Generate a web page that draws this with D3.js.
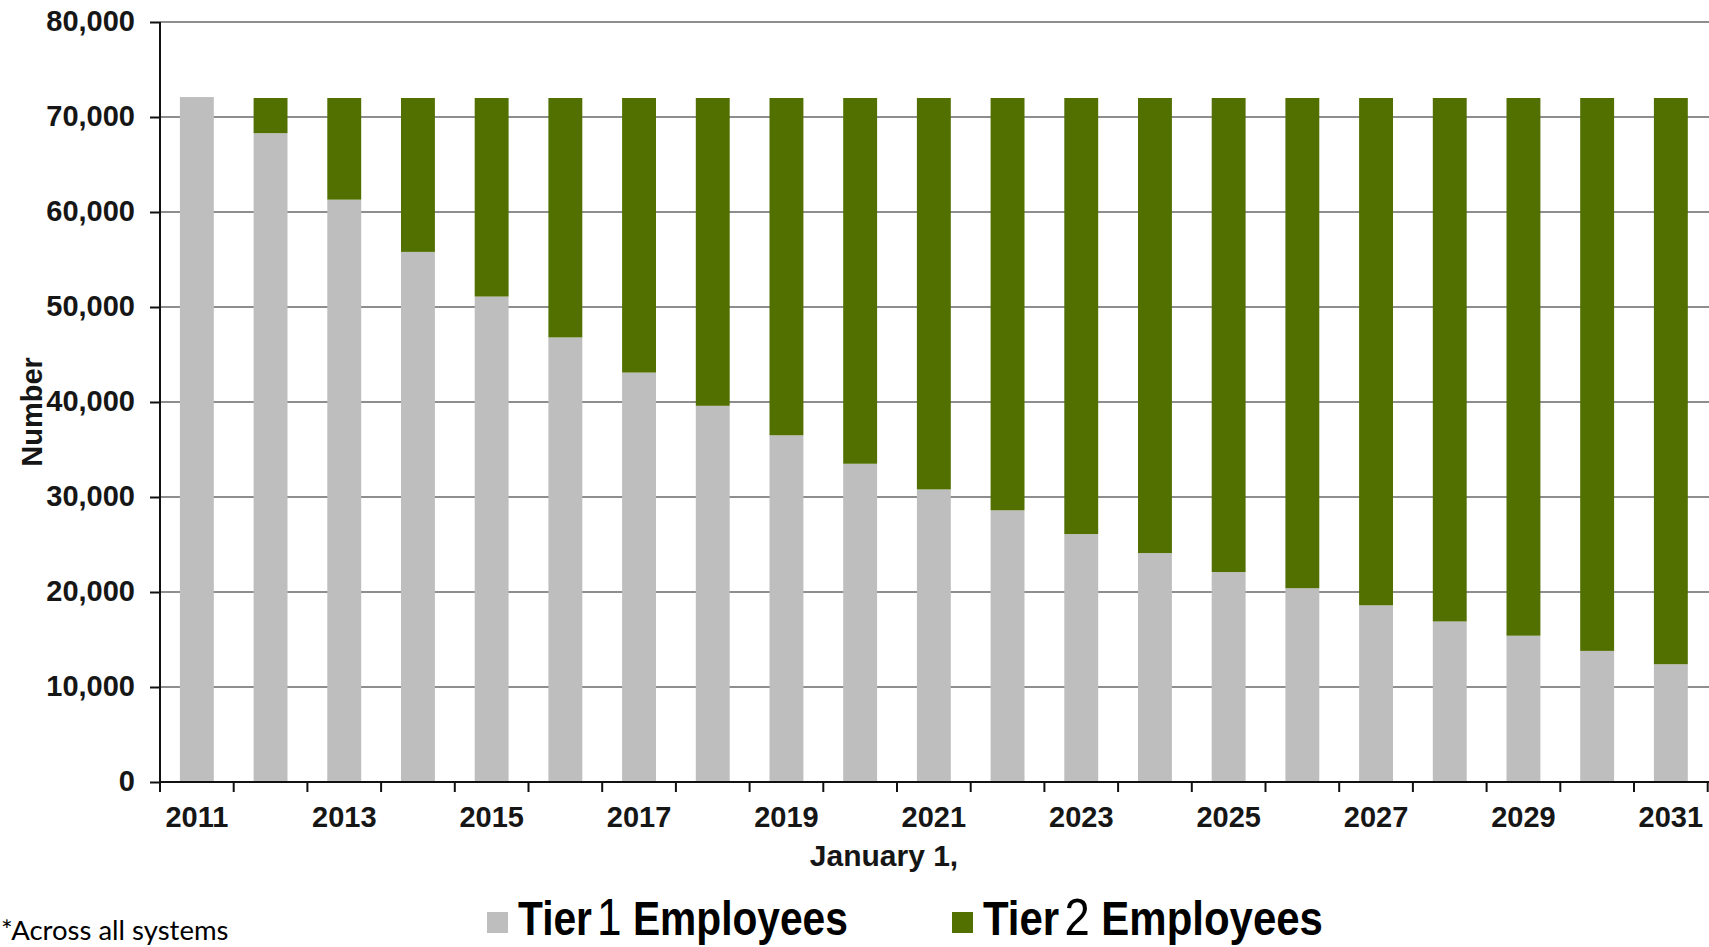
<!DOCTYPE html>
<html>

<head>
    <meta charset="UTF-8">
    <style>
        body {
            margin: 0;
            background: #ffffff;
        }

        svg {
            display: block;
        }

        .tick text {
            font-family: "Liberation Sans", Arial, sans-serif;
            font-weight: bold;
            font-size: 29px;
            fill: #161616;
        }
    </style>
</head>

<body>
    <svg></svg>
    <script src="https://d3js.org/d3.v7.min.js"></script>

    <script>

        // Data (number of employees on January 1)
        const years = ["2011", "2012", "2013", "2014", "2015", "2016", "2017", "2018", "2019", "2020", "2021",
            "2022", "2023", "2024", "2025", "2026", "2027", "2028", "2029", "2030", "2031"];
        const tier1 = [72100, 68300, 61300, 55800, 51100, 46800, 43100, 39600, 36500, 33500, 30800,
            28600, 26100, 24100, 22100, 20400, 18600, 16900, 15400, 13800, 12400];
        const tier2 = [0, 3700, 10700, 16200, 20900, 25200, 28900, 32400, 35500, 38500, 41200,
            43400, 45900, 47900, 49900, 51600, 53400, 55100, 56600, 58200, 59600];
        const yTicks = [0, 10000, 20000, 30000, 40000, 50000, 60000, 70000, 80000];
        const xLabels = ["2011", "2013", "2015", "2017", "2019", "2021", "2023", "2025", "2027", "2029", "2031"];
        const seriesNames = ["Tier 1 Employees", "Tier 2 Employees"];

        let width = 1709, height = 947;
        let plotLeft = 160, plotRight = 1707.7, plotTop = 22, plotBottom = 782;

        let svg = d3.select("svg")
            .attr("width", width)
            .attr("height", height);

        let colorScale = d3.scaleOrdinal()
            .domain(["tier1", "tier2"])
            .range(["#bebebe", "#527000"]);

        let table = years.map((y, i) => ({ year: y, tier1: tier1[i], tier2: tier2[i] }));
        let stacked = d3.stack().keys(["tier1", "tier2"])(table);

        let x = d3.scaleBand()
            .domain(years)
            .range([plotLeft, plotRight])
            .paddingInner(0.54)
            .paddingOuter(0.27);

        let y = d3.scaleLinear()
            .domain([0, 80000])
            .range([plotBottom, plotTop]);

        // gridlines
        svg.append("g")
            .selectAll("line")
            .data(yTicks.filter(d => d > 0))
            .enter()
            .append("line")
            .attr("x1", plotLeft)
            .attr("x2", width)
            .attr("y1", d => y(d))
            .attr("y2", d => y(d))
            .attr("stroke", "#8e8e8e")
            .attr("stroke-width", 1.8);

        // bars
        svg.append("g")
            .selectAll("g")
            .data(stacked)
            .enter()
            .append("g")
            .attr("fill", d => colorScale(d.key))
            .selectAll("rect")
            .data(d => d.filter(p => p[1] > p[0]))
            .enter()
            .append("rect")
            .attr("x", d => x(d.data.year))
            .attr("width", x.bandwidth())
            .attr("y", d => y(d[1]))
            .attr("height", d => y(d[0]) - y(d[1]));

        // y axis
        let yAxis = svg.append("g")
            .attr("transform", "translate(" + plotLeft + ",0)")
            .call(d3.axisLeft(y)
                .tickValues(yTicks)
                .tickSize(10)
                .tickPadding(15)
                .tickFormat(d3.format(",")));
        yAxis.select(".domain").remove();
        yAxis.selectAll(".tick line").attr("stroke", "#111").attr("stroke-width", 2);
        yAxis.selectAll(".tick text").attr("dy", "0.28em");
        svg.append("line")
            .attr("x1", plotLeft).attr("x2", plotLeft)
            .attr("y1", y(80000)).attr("y2", plotBottom + 10)
            .attr("stroke", "#111")
            .attr("stroke-width", 2);

        // x axis: labels under every other bar
        let xAxis = svg.append("g")
            .attr("transform", "translate(0," + plotBottom + ")")
            .call(d3.axisBottom(x)
                .tickValues(xLabels)
                .tickSize(0)
                .tickPadding(24));
        xAxis.select(".domain").remove();
        xAxis.selectAll(".tick line").remove();

        svg.append("line")
            .attr("x1", plotLeft).attr("x2", width)
            .attr("y1", plotBottom).attr("y2", plotBottom)
            .attr("stroke", "#111")
            .attr("stroke-width", 2);

        // ticks at the band boundaries
        svg.append("g")
            .selectAll("line")
            .data(years)
            .enter()
            .append("line")
            .attr("x1", d => x(d) + x.bandwidth() / 2 + x.step() / 2)
            .attr("x2", d => x(d) + x.bandwidth() / 2 + x.step() / 2)
            .attr("y1", plotBottom)
            .attr("y2", plotBottom + 10)
            .attr("stroke", "#111")
            .attr("stroke-width", 2);

        // axis titles
        svg.append("text")
            .attr("x", 884)
            .attr("y", 866)
            .attr("text-anchor", "middle")
            .style("font-family", "'Liberation Sans', Arial, sans-serif")
            .style("font-weight", "bold")
            .style("font-size", "30px")
            .style("fill", "#161616")
            .text("January 1,");

        svg.append("text")
            .attr("transform", "translate(42,412) rotate(-90)")
            .attr("text-anchor", "middle")
            .style("font-family", "'Liberation Sans', Arial, sans-serif")
            .style("font-weight", "bold")
            .style("font-size", "29px")
            .style("fill", "#161616")
            .text("Number");

        // legend
        let legendX = [487, 952];
        let legendW = [330, 340];
        let legend = svg.append("g")
            .selectAll("g")
            .data(seriesNames)
            .enter()
            .append("g")
            .attr("transform", (d, i) => "translate(" + legendX[i] + ",912)");

        legend.append("rect")
            .attr("width", 21)
            .attr("height", 21)
            .attr("fill", (d, i) => colorScale(i == 0 ? "tier1" : "tier2"));

        let legendText = legend.append("g")
            .attr("class", "legend-label")
            .append("text")
            .attr("x", 0)
            .attr("y", 0)
            .style("font-family", "'Liberation Sans', Arial, sans-serif")
            .style("font-weight", "bold")
            .style("font-size", "48px")
            .style("fill", "#000");
        legendText.append("tspan").text(d => d.split(" ")[0]);
        legendText.append("tspan")
            .attr("dx", 6)
            .style("font-weight", "normal")
            .style("font-size", "52px")
            .text(d => d.split(" ")[1]);
        legendText.append("tspan").text(d => " " + d.split(" ")[2]);

        // squeeze each label to the width of the original narrow font
        legend.select(".legend-label")
            .attr("transform", function (d, i) {
                let w = this.querySelector("text").getComputedTextLength() + 6;
                return "translate(31,23) scale(" + (legendW[i] / w) + ",1)";
            });

        // footnote
        svg.append("text")
            .attr("x", 1)
            .attr("y", 940)
            .style("font-family", "Lato, 'Open Sans', sans-serif")
            .style("font-size", "27.5px")
            .style("fill", "#000")
            .text("*Across all systems");

    </script>

</body>

</html>
